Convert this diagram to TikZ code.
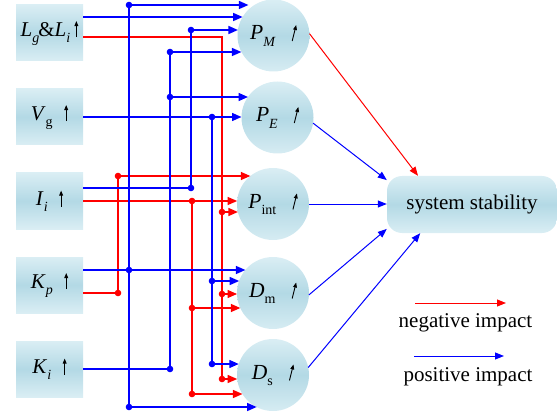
\documentclass[tikz,border=0pt]{standalone}
\usepackage{fontspec}
\setmainfont{Liberation Serif}
\usetikzlibrary{arrows.meta,calc}
\definecolor{boxlt}{HTML}{DAEEF4}
\definecolor{boxdk}{HTML}{B3D9E5}
\newcommand\mysub[1]{\raisebox{-0.3em}{\fontsize{14}{14}\selectfont #1}}
\newcommand\myup{\tikz[baseline=0pt]\draw[black,line width=0.9pt,-{Triangle[length=5pt,width=3.8pt]}] (0pt,-1pt) -- (0pt,15pt);}
\newcommand\myslant{\tikz[baseline=0pt]\draw[black,line width=0.9pt,-{Triangle[length=5pt,width=3.8pt]}] (0pt,-1pt) -- (4pt,15pt);}
\begin{document}
\begin{tikzpicture}[x=1pt,y=-1pt,
  inbox/.style={rectangle, minimum width=67pt, minimum height=56pt, inner sep=0pt,
    top color=boxlt, bottom color=boxlt, middle color=boxdk, font=\fontsize{21}{25}\selectfont},
  qty/.style={circle, minimum size=72pt, inner sep=0pt, outer sep=0pt,
    top color=boxlt, bottom color=boxlt!90!boxdk, middle color=boxdk, font=\fontsize{21.5}{25}\selectfont},
  sysbox/.style={rectangle, rounded corners=15pt, minimum width=170pt, minimum height=57pt, inner sep=0pt,
    top color=boxlt, bottom color=boxlt, middle color=boxdk, font=\fontsize{21}{25}\selectfont},
  legtext/.style={font=\fontsize{21}{25}\selectfont, inner sep=0pt},
  bw/.style={draw=blue, line width=1.4pt},
  rw/.style={draw=red, line width=1.3pt},
  barrow/.style={bw, -{Triangle[length=9.5pt,width=8pt]}},
  rarrow/.style={rw, -{Triangle[length=9.5pt,width=8pt]}},
  bout/.style={draw=blue, line width=1pt, -{Triangle[length=9pt,width=7pt]}},
  rout/.style={draw=red, line width=1pt, -{Triangle[length=9pt,width=7pt]}},
  bdot/.style={fill=blue},
  rdot/.style={fill=red}
]
\useasboundingbox (0,0) rectangle (557,417);

% input boxes
\node[inbox] (Lg) at (49.5,33)  {\textit{L}\mysub{\textit{g}}\kern-0.05em\&\textit{L}\mysub{\textit{i}}\hspace{0.2em}\myup};
\node[inbox] (Vg) at (49.5,117) {\textit{V}\mysub{g}\hspace{0.55em}\myup};
\node[inbox] (Ii) at (49.5,201) {\textit{I}\mysub{\textit{i}}\hspace{0.55em}\myup};
\node[inbox] (Kp) at (49.5,285) {\textit{K}\mysub{\textit{p}}\hspace{0.55em}\myup};
\node[inbox] (Ki) at (49.5,369) {\textit{K}\mysub{\textit{i}}\hspace{0.55em}\myup};

% quantity circles
\node[qty] (PM)   at (273.5,35.5)  {\textit{P}\mysub{\textit{M}}\hspace{0.75em}\myslant};
\node[qty] (PE)   at (277.5,117.5) {\textit{P}\mysub{\textit{E}}\hspace{0.75em}\myslant};
\node[qty] (Pint) at (273,204)     {\textit{P}\mysub{int}\hspace{0.75em}\myslant};
\node[qty] (Dm)   at (273,293)     {\textit{D}\mysub{m}\hspace{0.75em}\myslant};
\node[qty] (Ds)   at (273,375)     {\textit{D}\mysub{s}\hspace{0.75em}\myslant};

% system stability
\node[sysbox] (ss) at (472,204.5) {system stability};

% junction coordinates
\coordinate (kA) at (129,5);   \coordinate (kB) at (129,270); \coordinate (kC) at (129,407);
\coordinate (iA) at (170,52);  \coordinate (iB) at (170,97);  \coordinate (iC) at (170,369);
\coordinate (jA) at (191,30);  \coordinate (jB) at (191,188);
\coordinate (vA) at (212,117); \coordinate (vB) at (212,281); \coordinate (vC) at (212,364);
\coordinate (lA) at (222,212); \coordinate (lB) at (222,294); \coordinate (lD) at (222,379);
\coordinate (pA) at (118,176); \coordinate (pB) at (118,293);
\coordinate (rA) at (192,201); \coordinate (rB) at (192,308); \coordinate (rC) at (192,394);
\coordinate (lgb) at ([yshift=16pt]Lg.east);
\coordinate (lgr) at ([yshift=-4pt]Lg.east);

% red wires
\draw[rw] (lgr) -| (lD);
\draw[rarrow] (lA) -- (lA -| Pint.193);
\draw[rarrow] (lB) -- (lB -| Dm.182);
\draw[rarrow] (lD) -- (lD -| Ds.186);
\draw[rw] (pB -| Kp.east) -- (pB) -- (pA);
\draw[rarrow] (pA) -- (pA -| Pint.129);
\draw[rarrow] (Ii.east) -- (Ii.east -| Pint.175);
\draw[rw] (rA) -- (rC);
\draw[rarrow] (rB) -- (rB -| Dm.205);
\draw[rarrow] (rC) -- (rC -| Ds.212);

% blue wires
\draw[bw] (kA) -- (kC);
\draw[barrow, shorten >=6pt] (kA) -- (kA -| PM.122);
\draw[barrow] (kB -| Kp.east) -- (kB -| Dm.140);
\draw[barrow] (kC) -- (kC -| Ds.243);
\draw[barrow] (lgb) -- (lgb -| PM.149);
\draw[bw] (iA) -- (iC) -- (iC -| Ki.east);
\draw[barrow] (iA) -- (iA -| PM.207);
\draw[barrow] (iB) -- (iB -| PE.145);
\draw[bw] (jB -| Ii.east) -- (jB) -- (jA);
\draw[barrow] (jA) -- (jA -| PM.171);
\draw[barrow] (Vg.east) -- (Vg.east -| PE.west);
\draw[bw] (vA) -- (vC);
\draw[barrow] (vB) -- (vB -| Dm.160);
\draw[barrow] (vC) -- (vC -| Ds.162);

% junction dots
\foreach \d in {kA,kB,kC,iA,iB,iC,jA,jB,vA,vB,vC}
  \fill[bdot] (\d) circle (3.3pt);
\foreach \d in {lA,lB,lD,pA,pB,rA,rB,rC}
  \fill[rdot] (\d) circle (3.3pt);

% outputs to system stability
\draw[rout] (PM.3) -- (ss.152);
\draw[bout] (PE.-9) -- (ss.164);
\draw[bout] (Pint.east) -- (Pint.east -| ss.west);
\draw[bout] (Dm.-3) -- (ss.196);
\draw[bout] (Ds.12) -- (ss.209);

% legend
\coordinate (ngA) at (415,303); \coordinate (ngB) at (506,303);
\coordinate (psA) at (414,356); \coordinate (psB) at (504,356);
\draw[rout] (ngA) -- (ngB);
\draw[bout] (psA) -- (psB);
\node[legtext] (ngT) at (465.5,323) {negative impact};
\node[legtext] (psT) at (468,377) {positive impact};
\end{tikzpicture}
\end{document}
